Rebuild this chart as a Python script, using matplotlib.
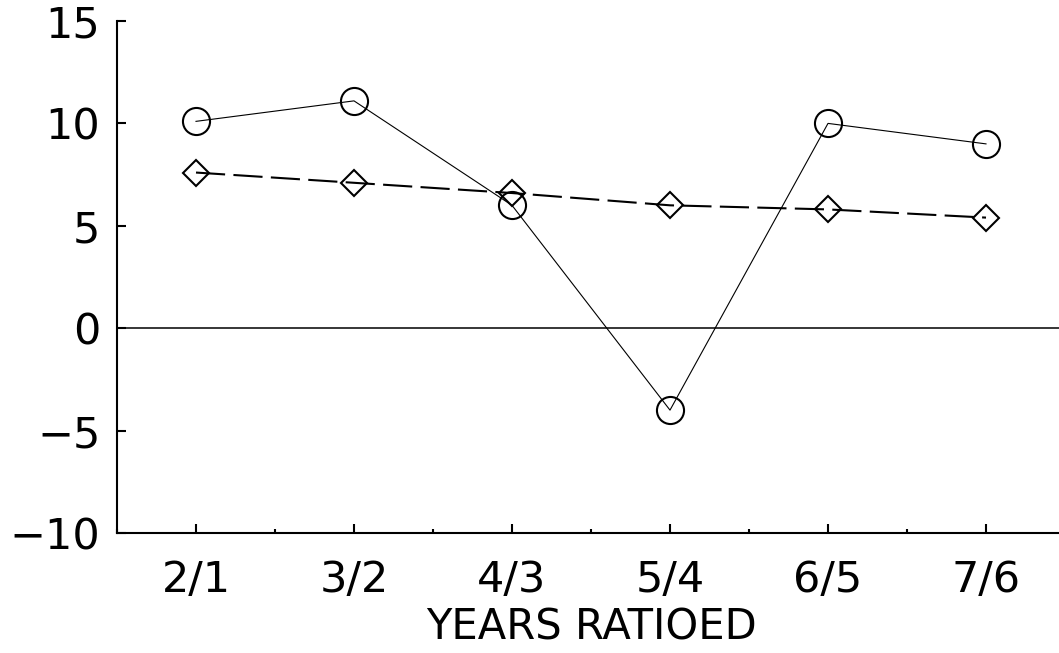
# Third party modules #
import matplotlib
matplotlib.use('Agg')
import matplotlib.pyplot as plt
from matplotlib.ticker import FixedLocator

# Data #
categories   = ['2/1', '3/2', '4/3', '5/4', '6/5', '7/6']
circle_vals  = [10.1, 11.1, 6.0, -4.0, 10.0, 9.0]
diamond_vals = [7.6, 7.1, 6.6, 6.0, 5.8, 5.4]
y_ticks      = [-10, -5, 0, 5, 10, 15]
x_label      = 'YEARS RATIOED'

################################################################################
plt.rcParams['font.family'] = ['DejaVu Sans']
plt.rcParams['axes.unicode_minus'] = True

fig = plt.figure(figsize=(10.59, 6.53), dpi=100)
# Right edge goes slightly past the figure, like the original #
ax = fig.add_axes([117/1059, 1 - 533/653, 948/1059, 512/653])

x = list(range(len(categories)))

# Zero line #
ax.axhline(0, color='black', lw=1.1, zorder=1)

# Series #
ax.plot(x, circle_vals, color='black', lw=0.8, marker='o', ms=19.5,
        mfc='none', mec='black', mew=1.5, zorder=3)
ax.plot(x, diamond_vals, color='black', lw=1.5, dashes=(14, 4), marker='D',
        ms=13.5, mfc='none', mec='black', mew=1.5, zorder=3)

# Axes limits #
ax.set_xlim(-0.5, 5.5)
ax.set_ylim(-10, 15)

# Spines #
for side in ('top', 'right'): ax.spines[side].set_visible(False)
for side in ('left', 'bottom'): ax.spines[side].set_linewidth(1.5)

# Ticks #
ax.set_xticks(x)
ax.set_xticklabels(categories)
ax.xaxis.set_minor_locator(FixedLocator([i - 0.5 for i in x]))
ax.set_yticks(y_ticks)
ax.set_yticklabels([str(v).replace('-', '\u2212') for v in y_ticks])
ax.tick_params(axis='both', which='major', direction='in', length=6.5, width=1.5,
               labelsize=31)
ax.tick_params(axis='x', which='major', pad=19)
ax.tick_params(axis='y', which='major', pad=12)
ax.tick_params(axis='x', which='minor', direction='in', length=3, width=1.5)

# Label #
ax.set_xlabel(x_label, fontsize=30, labelpad=4)

fig.savefig('out.png', dpi=100)
